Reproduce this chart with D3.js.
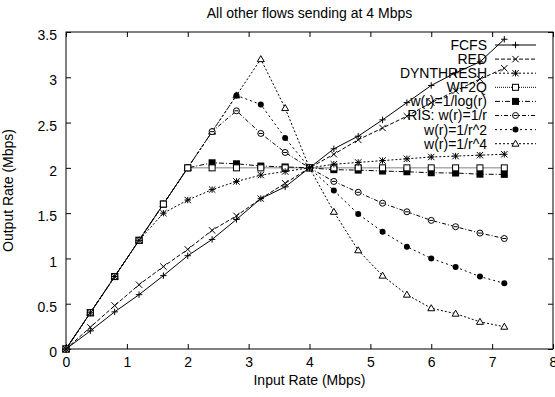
<!DOCTYPE html>
<html>
<head>
<meta charset="utf-8">
<script src="https://cdn.jsdelivr.net/npm/d3@7"></script>
<style>
  html, body { margin: 0; padding: 0; background: #fff; }
  svg { display: block; font-family: "Liberation Sans", Arial, sans-serif; }
</style>
</head>
<body>
<div id="chart"></div>
<script>
const inputRate = [0, 0.4, 0.8, 1.2, 1.6, 2.0, 2.4, 2.8, 3.2, 3.6, 4.0, 4.4, 4.8, 5.2, 5.6, 6.0, 6.4, 6.8, 7.2];

const fcfs = [0, 0.20, 0.41, 0.60, 0.81, 1.03, 1.21, 1.43, 1.66, 1.79, 2.0, 2.21, 2.35, 2.53, 2.72, 2.91, 3.05, 3.17, 3.42];
const red = [0, 0.24, 0.48, 0.71, 0.91, 1.10, 1.31, 1.47, 1.66, 1.83, 2.0, 2.15, 2.31, 2.44, 2.57, 2.72, 2.85, 2.98, 3.10];
const dynthresh = [0, 0.4, 0.8, 1.2, 1.50, 1.645, 1.76, 1.85, 1.92, 1.96, 2.0, 2.04, 2.06, 2.08, 2.10, 2.12, 2.13, 2.14, 2.15];
const wf2q = [0, 0.4, 0.8, 1.2, 1.6, 2.0, 2.0, 2.0, 2.0, 2.0, 2.0, 2.0, 2.0, 2.0, 2.0, 2.0, 2.0, 2.0, 2.0];
const wLog = [0, 0.4, 0.8, 1.2, 1.6, 2.0, 2.056, 2.045, 2.02, 2.01, 2.0, 1.98, 1.975, 1.965, 1.957, 1.946, 1.943, 1.93, 1.928];
const ris = [0, 0.4, 0.8, 1.2, 1.6, 2.0, 2.40, 2.63, 2.38, 2.17, 2.0, 1.85, 1.73, 1.61, 1.515, 1.42, 1.35, 1.28, 1.22];
const wR2 = [0, 0.4, 0.8, 1.2, 1.6, 2.0, 2.40, 2.80, 2.70, 2.33, 2.0, 1.75, 1.49, 1.295, 1.13, 1.0, 0.905, 0.80, 0.725];
const wR4 = [0, 0.4, 0.8, 1.2, 1.6, 2.0, 2.40, 2.80, 3.20, 2.66, 2.0, 1.515, 1.09, 0.81, 0.60, 0.45, 0.39, 0.30, 0.246];

const xTicks = [0, 1, 2, 3, 4, 5, 6, 7, 8];
const yTicks = [0, 0.5, 1, 1.5, 2, 2.5, 3, 3.5];

const series = [
  { name: "FCFS", values: fcfs, dash: null, marker: "plus" },
  { name: "RED", values: red, dash: "4,2", marker: "cross" },
  { name: "DYNTHRESH", values: dynthresh, dash: "2,2", marker: "star" },
  { name: "WF2Q", values: wf2q, dash: "1,1", marker: "box" },
  { name: "w(r)=1/log(r)", values: wLog, dash: "5,2,1,2", marker: "boxFilled" },
  { name: "RIS: w(r)=1/r", values: ris, dash: "4,2,1,2", marker: "circleBar" },
  { name: "w(r)=1/r^2", values: wR2, dash: "2,3", marker: "dot" },
  { name: "w(r)=1/r^4", values: wR4, dash: "2,2", marker: "triangle" },
];

const width = 555, height = 397;
const margin = { top: 32, right: 2, bottom: 48, left: 66 };
const fs = 14;

const svg = d3.select("#chart").append("svg").attr("width", width).attr("height", height);

const x = d3.scaleLinear().domain([0, 8]).range([margin.left, width - margin.right]);
const y = d3.scaleLinear().domain([0, 3.5]).range([height - margin.bottom, margin.top]);

// frame
svg.append("rect")
  .attr("x", x(0)).attr("y", y(3.5))
  .attr("width", x(8) - x(0)).attr("height", y(0) - y(3.5))
  .attr("fill", "none").attr("stroke", "#000").attr("stroke-width", 1);

// axes with inward ticks, mirrored
const axisFont = (g) => g.selectAll("text").attr("font-size", fs).attr("fill", "#000").attr("font-family", "Liberation Sans, Arial, sans-serif");

svg.append("g")
  .attr("transform", `translate(0,${y(0)})`)
  .call(d3.axisBottom(x).tickValues(xTicks).tickFormat(d3.format("d")).tickSizeInner(-5).tickSizeOuter(0).tickPadding(8))
  .call((g) => g.select(".domain").remove())
  .call(axisFont);
svg.append("g")
  .attr("transform", `translate(0,${y(3.5)})`)
  .call(d3.axisTop(x).tickValues(xTicks).tickFormat("").tickSizeInner(-5).tickSizeOuter(0))
  .call((g) => g.select(".domain").remove());
svg.append("g")
  .attr("transform", `translate(${x(0)},0)`)
  .call(d3.axisLeft(y).tickValues(yTicks).tickFormat(d3.format("")).tickSizeInner(-5).tickSizeOuter(0).tickPadding(9))
  .call((g) => g.select(".domain").remove())
  .call(axisFont)
  .call((g) => g.selectAll("text").attr("dy", "0.55em"));
svg.append("g")
  .attr("transform", `translate(${x(8)},0)`)
  .call(d3.axisRight(y).tickValues(yTicks).tickFormat("").tickSizeInner(-5).tickSizeOuter(0))
  .call((g) => g.select(".domain").remove());

// labels
svg.append("text").attr("x", (x(0) + x(8)) / 2).attr("y", 18).attr("text-anchor", "middle")
  .attr("font-size", fs).text("All other flows sending at 4 Mbps");
svg.append("text").attr("x", (x(0) + x(8)) / 2).attr("y", 385).attr("text-anchor", "middle")
  .attr("font-size", fs).text("Input Rate (Mbps)");
svg.append("text").attr("transform", `translate(13,${(y(0) + y(3.5)) / 2}) rotate(-90)`).attr("text-anchor", "middle")
  .attr("font-size", fs).text("Output Rate (Mbps)");

// markers
function drawMarker(g, type, cx, cy) {
  const s = 3.2;
  const stroke = { stroke: "#000", "stroke-width": 1, fill: "none" };
  const apply = (sel, attrs) => { Object.entries(attrs).forEach(([k, v]) => sel.attr(k, v)); return sel; };
  if (type === "plus" || type === "star") {
    apply(g.append("path").attr("d", `M${cx - s},${cy}H${cx + s}M${cx},${cy - s}V${cy + s}`), stroke);
  }
  if (type === "cross" || type === "star") {
    apply(g.append("path").attr("d", `M${cx - s},${cy - s}L${cx + s},${cy + s}M${cx - s},${cy + s}L${cx + s},${cy - s}`), stroke);
  }
  if (type === "box") {
    apply(g.append("rect").attr("x", cx - 3).attr("y", cy - 3).attr("width", 6).attr("height", 6), stroke).attr("fill", "#fff");
  }
  if (type === "boxFilled") {
    g.append("rect").attr("x", cx - 3.5).attr("y", cy - 3.5).attr("width", 7).attr("height", 7).attr("fill", "#000");
  }
  if (type === "circleBar") {
    apply(g.append("circle").attr("cx", cx).attr("cy", cy).attr("r", 3), stroke).attr("fill", "#fff");
    apply(g.append("path").attr("d", `M${cx - 2},${cy}H${cx + 2}`), stroke);
  }
  if (type === "dot") {
    g.append("circle").attr("cx", cx).attr("cy", cy).attr("r", 3).attr("fill", "#000");
  }
  if (type === "triangle") {
    apply(g.append("path").attr("d", `M${cx},${cy - 3.5}L${cx + 3.5},${cy + 2.5}L${cx - 3.5},${cy + 2.5}Z`), stroke).attr("fill", "#fff");
  }
}

const line = d3.line().x((d) => x(d[0])).y((d) => y(d[1]));
const plot = svg.append("g");

series.slice().reverse().forEach((s) => {
  const pts = inputRate.map((r, i) => [r, s.values[i]]);
  plot.append("path").attr("d", line(pts)).attr("fill", "none").attr("stroke", "#000")
    .attr("stroke-width", 1).attr("stroke-dasharray", s.dash);
  const mg = plot.append("g");
  pts.forEach((p) => drawMarker(mg, s.marker, x(p[0]), y(p[1])));
});

// legend
const legend = svg.append("g");
series.forEach((s, i) => {
  const ly = 45 + i * 14.1;
  legend.append("text").attr("x", 487).attr("y", ly).attr("dy", "0.35em").attr("text-anchor", "end")
    .attr("font-size", fs).text(s.name);
  legend.append("path").attr("d", `M495,${ly}H536`).attr("stroke", "#000").attr("stroke-width", 1)
    .attr("stroke-dasharray", s.dash);
  drawMarker(legend.append("g"), s.marker, 515.5, ly);
});
</script>
</body>
</html>
